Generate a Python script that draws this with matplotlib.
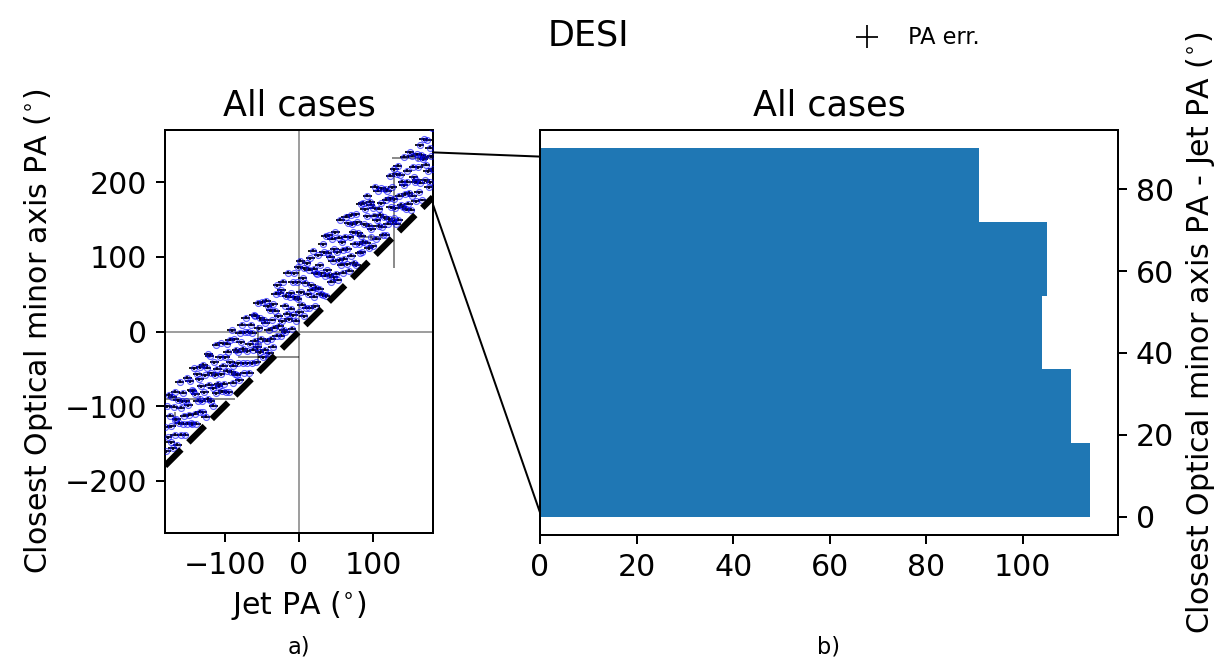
import numpy as np
import matplotlib
matplotlib.use("Agg")
import matplotlib.pyplot as plt
from matplotlib.patches import ConnectionPatch

# jet position angles (deg), read from panel a)
jet_pa = [-179.6, -178.3, -177.1, -176.4, -174.8, -173.9, -172.5, -171.7, -170.2, -169.4, -168.5,
          -167.2, -166.5, -164.9, -163.7, -162.8, -161.1, -160.3, -159.0, -158.4, -157.6, -156.3,
          -155.8, -154.1, -153.5, -152.2, -150.9, -150.0, -148.7, -147.3, -146.6, -145.2, -144.4,
          -143.5, -142.9, -141.3, -140.1, -139.4, -137.8, -136.6, -135.9, -134.2, -133.5, -132.7,
          -131.4, -130.6, -129.2, -128.5, -127.1, -125.8, -125.0, -123.6, -122.3, -121.7, -120.4,
          -119.7, -118.2, -117.6, -116.0, -115.3, -114.1, -112.8, -111.5, -110.9, -109.6, -108.2,
          -107.5, -106.3, -105.1, -104.4, -102.9, -101.6, -100.8, -99.3, -98.7, -97.2, -96.5,
          -95.9, -94.6, -93.2, -92.5, -91.0, -90.3, -88.8, -88.1, -86.7, -85.4, -84.6,
          -83.8, -82.4, -81.7, -80.2, -79.5, -78.1, -77.0, -75.7, -75.1, -73.6, -72.3,
          -71.5, -70.2, -69.6, -68.4, -67.0, -65.9, -65.1, -63.8, -62.5, -61.7, -60.6,
          -59.4, -58.8, -57.3, -56.1, -55.4, -53.9, -52.7, -52.0, -50.6, -49.8, -48.5,
          -47.6, -46.2, -45.5, -44.0, -43.3, -41.9, -40.8, -40.1, -38.7, -37.4, -36.6,
          -35.3, -34.7, -33.2, -32.0, -31.4, -29.8, -29.1, -27.9, -26.5, -25.6, -24.8,
          -23.7, -22.4, -21.6, -20.5, -19.2, -18.3, -17.1, -15.9, -15.2, -13.8, -12.6,
          -11.3, -10.8, -9.4, -8.2, -7.5, -6.1, -5.0, -4.3, -2.9, -1.6, -0.7,
          0.5, 1.9, 2.6, 3.8, 5.1, 6.3, 7.0, 8.4, 9.7, 10.2, 11.6,
          12.8, 13.5, 14.9, 16.2, 16.8, 18.3, 19.5, 20.1, 21.7, 22.4, 23.3,
          24.6, 25.9, 27.1, 27.8, 29.4, 30.2, 31.6, 32.5, 33.3, 34.8, 35.7,
          36.3, 37.8, 38.5, 40.0, 40.9, 42.2, 43.4, 44.1, 45.6, 46.8, 47.5,
          48.9, 49.6, 51.2, 52.0, 53.5, 54.3, 55.7, 56.4, 57.8, 58.5, 59.6,
          60.4, 61.8, 62.6, 64.1, 64.9, 66.2, 67.5, 68.0, 69.6, 70.3, 71.8,
          72.7, 73.3, 74.8, 76.0, 76.9, 78.2, 79.4, 80.1, 81.5, 82.7, 83.4,
          84.2, 85.6, 86.5, 87.9, 88.6, 90.1, 91.3, 92.0, 93.4, 94.5, 95.8,
          96.6, 97.3, 98.9, 99.7, 101.2, 102.0, 103.5, 104.3, 105.6, 106.8, 107.4,
          108.5, 109.9, 110.6, 112.1, 112.8, 114.3, 115.0, 116.6, 117.2, 118.7, 119.5,
          120.3, 121.6, 122.9, 123.5, 125.1, 125.8, 127.3, 128.2, 129.0, 130.6, 131.4,
          132.9, 133.6, 134.8, 136.1, 137.0, 138.4, 139.2, 140.7, 141.3, 142.6, 143.8,
          144.7, 145.3, 146.9, 147.6, 149.0, 150.2, 151.5, 152.1, 153.7, 154.4, 155.9,
          156.5, 157.8, 158.6, 160.0, 160.9, 162.3, 163.1, 164.5, 165.2, 166.8, 167.7,
          168.4, 169.7, 170.5, 172.0, 172.8, 174.1, 175.4, 176.2, 177.6, 178.3, 179.5]
# closest optical minor axis PA minus jet PA (deg), same order
offset = [52, 18, 77, 35, 90, 61, 24, 45, 83, 13, 68,
          29, 86, 47, 12, 71, 39, 93, 57, 20, 64, 33,
          74, 41, 15, 59, 27, 88, 50, 36, 80, 22, 66,
          19, 63, 92, 30, 55, 14, 79, 43, 70, 26, 85,
          58, 37, 21, 84, 46, 67, 11, 75, 32, 91, 49,
          87, 25, 62, 40, 16, 73, 54, 94, 28, 60, 38,
          34, 72, 48, 89, 23, 56, 31, 65, 17, 81, 44,
          69, 13, 82, 51, 37, 92, 20, 42, 76, 29, 60,
          26, 55, 39, 15, 78, 64, 86, 33, 52, 18, 71,
          90, 44, 27, 68, 12, 49, 74, 21, 61, 37, 83,
          47, 80, 16, 35, 93, 58, 25, 70, 41, 89, 14,
          63, 22, 57, 85, 31, 76, 43, 11, 67, 28, 52,
          15, 71, 38, 60, 82, 24, 91, 48, 34, 77, 19,
          79, 36, 88, 23, 54, 17, 65, 40, 94, 30, 59,
          42, 62, 13, 74, 29, 84, 51, 19, 69, 45, 87,
          25, 93, 50, 32, 66, 14, 78, 57, 22, 81, 38,
          70, 18, 83, 46, 39, 90, 27, 64, 12, 56, 35,
          53, 76, 30, 61, 21, 48, 85, 16, 73, 40, 92,
          11, 44, 67, 89, 35, 58, 23, 80, 49, 26, 63,
          84, 28, 55, 17, 72, 41, 94, 33, 62, 20, 50,
          37, 65, 91, 26, 46, 79, 14, 58, 86, 31, 72,
          60, 19, 43, 81, 12, 68, 52, 37, 24, 88, 45,
          22, 87, 34, 56, 75, 29, 63, 90, 18, 47, 78,
          73, 40, 15, 66, 54, 92, 21, 45, 83, 35, 57,
          48, 82, 61, 28, 17, 39, 76, 13, 59, 70, 25,
          31, 57, 86, 43, 68, 22, 50, 89, 36, 14, 79,
          89, 16, 47, 74, 33, 62, 27, 55, 93, 41, 20,
          56, 70, 24, 38, 91, 13, 84, 30, 67, 52, 44,
          18, 45, 79, 60, 26, 87, 36, 72, 11, 64, 90,
          66, 33, 53, 85, 42, 19, 71, 24, 57, 94, 38]
jet_err_typ = 6
opt_err_typ = 2

# a few sources with large errors
big_jet = [-133, -41, -55, 127, 160, 97, -166]
big_opt = [-90, -34, -17, 152, 232, 126, -118]
big_jet_err = [47, 41, 4, 3, 35, 16, 3]
big_opt_err = [3, 3, 26, 67, 3, 3, 10]

# histogram of (optical minor axis PA - jet PA)
bin_edges = [0, 18, 36, 54, 72, 90]
counts = [114, 110, 104, 105, 91]

# zoom connector end points (left data -> right data)
zoom_src = [(180, 240), (180, 170)]
zoom_dst = [(0, 88), (0, 1)]

W, H, DPI = 1223, 661, 180
plt.rcParams["font.size"] = 12
fig = plt.figure(figsize=(W / DPI, H / DPI), dpi=DPI)
ax1 = fig.add_axes([165 / W, 1 - 533 / H, 268 / W, 403 / H])
ax2 = fig.add_axes([540 / W, 1 - 535 / H, 578 / W, 405 / H])

jet = np.array(jet_pa, dtype=float)
opt = jet + np.array(offset, dtype=float)

ax1.axhline(0, color="gray", lw=0.6, zorder=1)
ax1.axvline(0, color="gray", lw=0.6, zorder=1)
eb = ax1.errorbar(jet, opt, xerr=jet_err_typ, yerr=opt_err_typ, fmt="none",
                  ecolor="k", elinewidth=0.7, label="PA err.", zorder=2)
ax1.errorbar(big_jet, big_opt, xerr=big_jet_err, yerr=big_opt_err, fmt="none",
             ecolor="k", elinewidth=0.6, alpha=0.6, zorder=2)
mk = dict(s=6, facecolors=(0, 0, 1, 0.15), edgecolors=(0, 0, 1, 0.6), linewidths=0.4, zorder=3)
ax1.scatter(jet, opt, **mk)
ax1.scatter(big_jet, big_opt, **mk)
ax1.plot([-180, 180], [-180, 180], "k--", lw=2.5, zorder=4)
ax1.set_xlim(-180, 180)
ax1.set_ylim(-270, 270)
ax1.set_xticks([-100, 0, 100])
ax1.set_yticks([-200, -100, 0, 100, 200])
ax1.set_xlabel(r"Jet PA ($^{\circ}$)")
ax1.set_ylabel(r"Closest Optical minor axis PA ($^{\circ}$)")
ax1.set_title("All cases", fontsize=14)

ax2.barh(bin_edges[:-1], counts, height=np.diff(bin_edges), align="edge", color="C0")
ax2.yaxis.tick_right()
ax2.yaxis.set_label_position("right")
ax2.set_ylabel(r"Closest Optical minor axis PA - Jet PA ($^{\circ}$)")
ax2.set_title("All cases", fontsize=14)

for a, b in zip(zoom_src, zoom_dst):
    con = ConnectionPatch(xyA=a, coordsA=ax1.transData, xyB=b, coordsB=ax2.transData,
                          color="k", lw=0.8)
    fig.add_artist(con)

fig.text(588 / W, 1 - 35 / H, "DESI", ha="center", va="center", fontsize=14)
fig.legend(handles=[eb], loc="center", bbox_to_anchor=(912 / W, 1 - 38 / H),
           frameon=False, fontsize=9)
fig.text(299 / W, 1 - 647 / H, "a)", ha="center", va="center", fontsize=9)
fig.text(829 / W, 1 - 647 / H, "b)", ha="center", va="center", fontsize=9)

fig.savefig("out.png", dpi=DPI)
